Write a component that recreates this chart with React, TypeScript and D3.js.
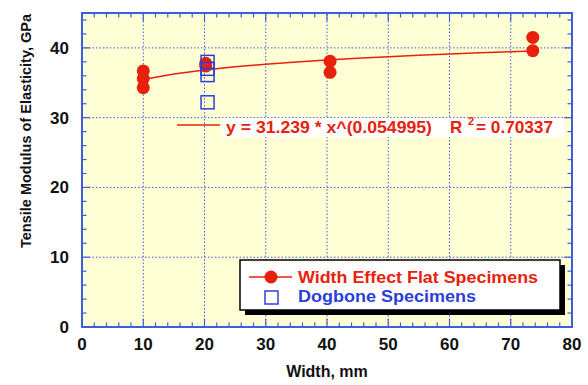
import React from "react";
import * as d3 from "d3";

// Flat specimens of varying width (mm) and their tensile modulus (GPa)
const flatWidths = [10, 10, 10, 20.2, 20.2, 40.5, 40.5, 73.6, 73.6];
const flatModulus = [36.7, 35.6, 34.3, 37.8, 37.4, 38.1, 36.5, 41.5, 39.6];

// Dogbone specimens
const dogWidths = [20.5, 20.5, 20.5, 20.5];
const dogModulus = [38.0, 37.0, 36.1, 32.2];

// Power-law fit y = a * x^b
const fitA = 31.239;
const fitB = 0.054995;
const fitR2 = "0.70337";
const fitXs = [10, 15, 20, 25, 30, 35, 40, 45, 50, 55, 60, 65, 70, 73.6];

const xTicks = [0, 10, 20, 30, 40, 50, 60, 70, 80];
const yTicks = [0, 10, 20, 30, 40];

const xLabel = "Width, mm";
const yLabel = "Tensile Modulus of Elasticity, GPa";
const legendFlat = "Width Effect Flat Specimens";
const legendDog = "Dogbone Specimens";

const W = 588;
const H = 385;
const M = { left: 82, right: 16, top: 13, bottom: 58 };

const RED = "#e8210c";
const BLUE = "#2b3fd8";
const AXIS = "#3d5ce0";
const FONT = "Liberation Sans, Arial, Helvetica, sans-serif";

export default function App() {
  const x = d3.scaleLinear().domain([0, 80]).range([M.left, W - M.right]);
  const y = d3.scaleLinear().domain([0, 45]).range([H - M.bottom, M.top]);
  const x0 = x(0), x1 = x(80), y0 = y(0), y1 = y(45);

  const xMinor = d3.range(0, 80.01, 2).filter((v) => v % 10 !== 0);
  const yMinor = d3.range(0, 45.01, 2).filter((v) => v % 10 !== 0);

  const fitLine = d3
    .line<number>()
    .x((d) => x(d))
    .y((d) => y(fitA * Math.pow(d, fitB)));

  const major = 8;
  const minor = 4.5;

  // legend box
  const lg = { x: 240, y: 260, w: 320, h: 50 };

  return (
    <svg
      width={W}
      height={H}
      style={{ position: "absolute", left: 0, top: 0, background: "#fff" }}
      fontFamily={FONT}
    >
      <rect x={x0} y={y1} width={x1 - x0} height={y0 - y1} fill="#ffffd6" />

      {/* dotted grid */}
      <g stroke={AXIS} strokeWidth={1} strokeDasharray="1.5,2">
        {xTicks.slice(1, -1).map((v) => (
          <line key={"gx" + v} x1={x(v)} x2={x(v)} y1={y0} y2={y1} />
        ))}
        {yTicks.slice(1).map((v) => (
          <line key={"gy" + v} x1={x0} x2={x1} y1={y(v)} y2={y(v)} />
        ))}
      </g>

      {/* ticks on all four sides, pointing inward */}
      <g stroke={AXIS} strokeWidth={1.2}>
        {xTicks.map((v) => (
          <g key={"tx" + v}>
            <line x1={x(v)} x2={x(v)} y1={y0} y2={y0 - major} />
            <line x1={x(v)} x2={x(v)} y1={y1} y2={y1 + major} />
          </g>
        ))}
        {xMinor.map((v) => (
          <g key={"mx" + v}>
            <line x1={x(v)} x2={x(v)} y1={y0} y2={y0 - minor} />
            <line x1={x(v)} x2={x(v)} y1={y1} y2={y1 + minor} />
          </g>
        ))}
        {yTicks.map((v) => (
          <g key={"ty" + v}>
            <line x1={x0} x2={x0 + major} y1={y(v)} y2={y(v)} />
            <line x1={x1} x2={x1 - major} y1={y(v)} y2={y(v)} />
          </g>
        ))}
        {yMinor.map((v) => (
          <g key={"my" + v}>
            <line x1={x0} x2={x0 + minor} y1={y(v)} y2={y(v)} />
            <line x1={x1} x2={x1 - minor} y1={y(v)} y2={y(v)} />
          </g>
        ))}
      </g>
      <rect
        x={x0}
        y={y1}
        width={x1 - x0}
        height={y0 - y1}
        fill="none"
        stroke={AXIS}
        strokeWidth={2}
      />

      {/* fit curve */}
      <path d={fitLine(fitXs) ?? ""} fill="none" stroke={RED} strokeWidth={1.5} />

      {/* flat specimens */}
      {flatWidths.map((w, i) => (
        <circle key={"f" + i} cx={x(w)} cy={y(flatModulus[i])} r={6.5} fill={RED} />
      ))}

      {/* dogbone specimens */}
      {dogWidths.map((w, i) => (
        <rect
          key={"d" + i}
          x={x(w) - 6.5}
          y={y(dogModulus[i]) - 6.5}
          width={13}
          height={13}
          fill="none"
          stroke={BLUE}
          strokeWidth={1.5}
        />
      ))}

      {/* fit equation */}
      <line x1={177} x2={220} y1={125} y2={125} stroke={RED} strokeWidth={1.5} />
      <rect x={222} y={118} width={342} height={19} fill="#ffffff" />
      <g fill={RED} fontWeight="bold" fontSize={17}>
        <text x={226} y={133} textLength={206} lengthAdjust="spacingAndGlyphs">
          {`y = ${fitA} * x^(${fitB})`}
        </text>
        <text x={450} y={133}>R</text>
        <text x={468} y={125} fontSize={11}>2</text>
        <text x={476} y={133} textLength={77} lengthAdjust="spacingAndGlyphs">
          {`= ${fitR2}`}
        </text>
      </g>

      {/* axis tick labels */}
      <g fontSize={17} fontWeight="bold" fill="#111">
        {xTicks.map((v) => (
          <text key={"lx" + v} x={x(v)} y={y0 + 23} textAnchor="middle">
            {v}
          </text>
        ))}
        {yTicks.map((v) => (
          <text key={"ly" + v} x={x0 - 13} y={y(v) + 6} textAnchor="end">
            {v}
          </text>
        ))}
      </g>

      <text
        x={(x0 + x1) / 2}
        y={377}
        textAnchor="middle"
        fontSize={16}
        fontWeight="bold"
        fill="#111"
      >
        {xLabel}
      </text>
      <text
        transform="translate(31, 131) rotate(-90)"
        textAnchor="middle"
        fontSize={15}
        fontWeight="bold"
        fill="#111"
        textLength={234}
        lengthAdjust="spacingAndGlyphs"
      >
        {yLabel}
      </text>

      {/* legend */}
      <rect x={lg.x + 5} y={lg.y + 5} width={lg.w} height={lg.h} fill="#000" />
      <rect
        x={lg.x}
        y={lg.y}
        width={lg.w}
        height={lg.h}
        fill="#fff"
        stroke="#000"
        strokeWidth={1.5}
      />
      <line x1={249} x2={292} y1={277} y2={277} stroke={RED} strokeWidth={1.5} />
      <circle cx={271} cy={277} r={6.5} fill={RED} />
      <rect x={265} y={291} width={13} height={13} fill="none" stroke={BLUE} strokeWidth={1.5} />
      <text x={298} y={283} fill={RED} fontSize={17} fontWeight="bold" textLength={240} lengthAdjust="spacingAndGlyphs">
        {legendFlat}
      </text>
      <text x={298} y={302} fill={BLUE} fontSize={17} fontWeight="bold" textLength={178} lengthAdjust="spacingAndGlyphs">
        {legendDog}
      </text>
    </svg>
  );
}
